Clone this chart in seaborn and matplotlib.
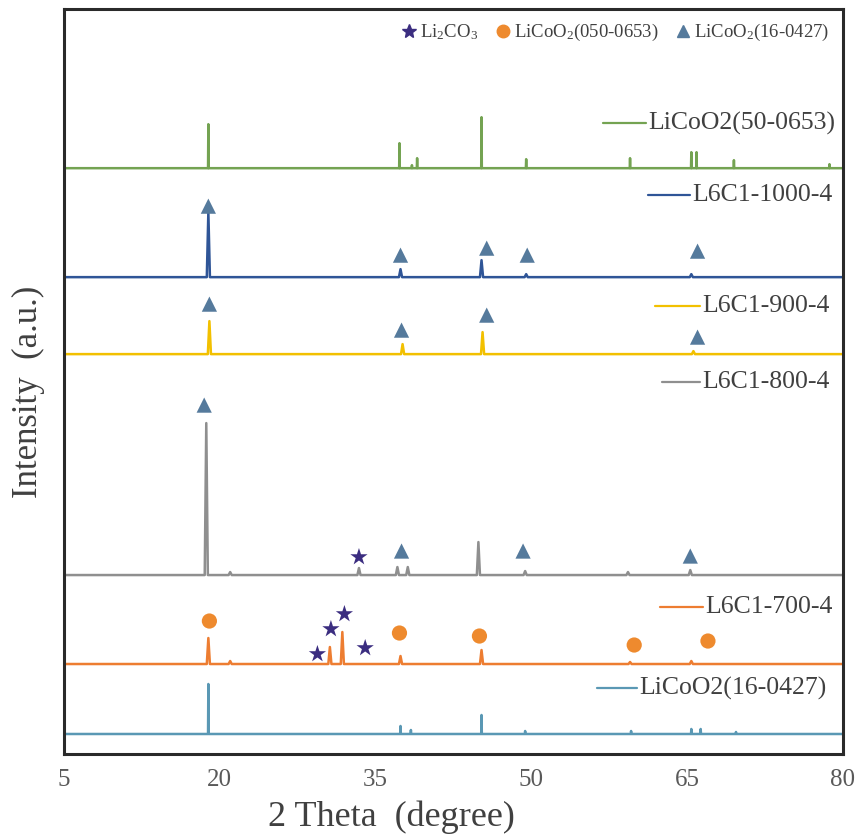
import numpy as np
import pandas as pd
import matplotlib
matplotlib.use("Agg")
import matplotlib.pyplot as plt
from matplotlib.lines import Line2D
import seaborn as sns

# ---- data -------------------------------------------------------------
# Pattern names, listed bottom to top
samples = ["LiCoO2(16-0427)", "L6C1-700-4", "L6C1-800-4",
           "L6C1-900-4", "L6C1-1000-4", "LiCoO2(50-0653)"]

# Peak positions (2θ, degree) and heights (a.u.) of every pattern
pdf16_pos = [18.9, 37.4, 38.4, 45.2, 49.4, 59.6, 65.4, 66.3, 69.7]
pdf16_int = [50, 8, 4, 19, 3, 3, 5, 5, 2]

l700_pos = [18.9, 21.0, 30.6, 31.8, 37.4, 45.2, 59.5, 65.4]
l700_int = [26, 3, 17, 32, 8, 14, 2, 3]

l800_pos = [18.7, 21.0, 33.4, 37.1, 38.1, 44.9, 49.4, 59.3, 65.3]
l800_int = [152, 3, 7, 8, 8, 33, 4, 3, 5]

l900_pos = [19.0, 37.6, 45.3, 65.6]
l900_int = [33, 10, 22, 3]

l1000_pos = [18.9, 37.4, 45.2, 49.5, 65.4]
l1000_int = [65, 8, 17, 3, 3]

pdf50_pos = [18.9, 37.3, 38.5, 39.0, 45.2, 49.5, 59.5, 65.4, 65.9, 69.5, 78.7]
pdf50_int = [44, 25, 3, 10, 51, 9, 10, 16, 16, 8, 4]

# Phase markers: 2θ and height above the pattern's baseline
tri_1000_x = [18.9, 37.4, 45.7, 49.6, 66.0]
tri_1000_y = [71, 22, 29, 22, 26]
tri_900_x = [19.0, 37.5, 45.7, 66.0]
tri_900_y = [50, 24, 39, 17]
tri_800_x = [18.5, 37.5, 49.2, 65.3]
tri_800_y = [170, 24, 24, 19]
star_800_x = [33.4]
star_800_y = [18]
circ_700_x = [19.0, 37.3, 45.0, 59.9, 67.0]
circ_700_y = [43, 31, 28, 19, 23]
star_700_x = [29.4, 30.7, 32.0, 34.0]
star_700_y = [10, 35, 50, 16]

x_ticks = [5, 20, 35, 50, 65, 80]

# ---- layout / style -----------------------------------------------------
peaks = {
    "LiCoO2(16-0427)": (pdf16_pos, pdf16_int),
    "L6C1-700-4": (l700_pos, l700_int),
    "L6C1-800-4": (l800_pos, l800_int),
    "L6C1-900-4": (l900_pos, l900_int),
    "L6C1-1000-4": (l1000_pos, l1000_int),
    "LiCoO2(50-0653)": (pdf50_pos, pdf50_int),
}
offsets = {"LiCoO2(16-0427)": 20, "L6C1-700-4": 90, "L6C1-800-4": 179,
           "L6C1-900-4": 400, "L6C1-1000-4": 477, "LiCoO2(50-0653)": 586}
colors = {"LiCoO2(16-0427)": "#5a98b4", "L6C1-700-4": "#ed7d31",
          "L6C1-800-4": "#8f8f8f", "L6C1-900-4": "#f2c000",
          "L6C1-1000-4": "#2f5597", "LiCoO2(50-0653)": "#74a352"}
# label anchor: (line start, text start) in axes fraction, vertical in data
label_pos = {"LiCoO2(16-0427)": (0.684, 0.739, 66),
             "L6C1-700-4": (0.765, 0.823, 147),
             "L6C1-800-4": (0.768, 0.820, 372),
             "L6C1-900-4": (0.759, 0.819, 448),
             "L6C1-1000-4": (0.750, 0.807, 559),
             "LiCoO2(50-0653)": (0.692, 0.750, 631)}
half_width = {"LiCoO2(16-0427)": 0.03, "LiCoO2(50-0653)": 0.03}

tri_color = "#557a9c"
star_color = "#3b2d80"
circ_color = "#ee8a2e"

sns.set_theme(style="white")
plt.rcParams["font.family"] = ["Liberation Serif", "DejaVu Serif"]
plt.rcParams["mathtext.fontset"] = "custom"
plt.rcParams["mathtext.rm"] = "Liberation Serif"
plt.rcParams["mathtext.it"] = "Liberation Serif:italic"

# Build long-form traces: flat baseline with sharp peaks
rows = []
for name in samples:
    pos, inten = peaks[name]
    base = offsets[name]
    hw = half_width.get(name, 0.15)
    rows.append((name, 5.0, base))
    for p, h in zip(pos, inten):
        rows += [(name, p - hw, base), (name, p, base + h), (name, p + hw, base)]
    rows.append((name, 80.0, base))
df = pd.DataFrame(rows, columns=["sample", "two_theta", "intensity"])

fig = plt.figure(figsize=(8.6, 8.4), dpi=100)
ax = fig.add_axes([0.0744, 0.1024, 0.9058, 0.8866])

sns.lineplot(data=df, x="two_theta", y="intensity", hue="sample",
             palette=colors, estimator=None, sort=False, units="sample",
             legend=False, linewidth=1.8, ax=ax)

def markers(xs, ys, name, marker, color, size):
    d = pd.DataFrame({"x": xs, "y": [offsets[name] + v for v in ys]})
    sns.scatterplot(data=d, x="x", y="y", marker=marker, color=color,
                    s=size, edgecolor="none", ax=ax, zorder=5, legend=False)

markers(tri_1000_x, tri_1000_y, "L6C1-1000-4", "^", tri_color, 120)
markers(tri_900_x, tri_900_y, "L6C1-900-4", "^", tri_color, 120)
markers(tri_800_x, tri_800_y, "L6C1-800-4", "^", tri_color, 120)
markers(star_800_x, star_800_y, "L6C1-800-4", "*", star_color, 170)
markers(circ_700_x, circ_700_y, "L6C1-700-4", "o", circ_color, 120)
markers(star_700_x, star_700_y, "L6C1-700-4", "*", star_color, 170)

# Series labels with a short line in the series colour
for name in samples:
    x0, x1, y = label_pos[name]
    ax.plot([x0, x1 - 0.003], [y, y], color=colors[name], lw=1.6,
            transform=ax.get_yaxis_transform())
    ax.text(x1, y, name, transform=ax.get_yaxis_transform(),
            ha="left", va="center", fontsize=18.5, color="#404040")

# Phase key
handles = [
    Line2D([], [], ls="", marker="*", ms=10, color=star_color),
    Line2D([], [], ls="", marker="o", ms=9, color=circ_color),
    Line2D([], [], ls="", marker="^", ms=9, color=tri_color),
]
labels = [r"Li$_2$CO$_3$", r"LiCoO$_2$(050-0653)", r"LiCoO$_2$(16-0427)"]
ax.legend(handles, labels, loc="upper right", ncol=3, frameon=False,
          fontsize=13.5, handletextpad=0.0, columnspacing=0.7,
          borderaxespad=0.3, handlelength=1.2, labelcolor="#404040")

ax.set_xlim(5, 80)
ax.set_ylim(0, 745)
ax.set_xticks(x_ticks)
ax.set_xticklabels([str(t) for t in x_ticks])
ax.set_yticks([])
ax.tick_params(axis="x", direction="out", length=5, width=1.5,
               colors="#222222", labelcolor="#595959", labelsize=18, pad=6)
for sp in ax.spines.values():
    sp.set_linewidth(2.2)
    sp.set_color("#2a2a2a")
ax.set_xlabel("2 Theta  (degree)", fontsize=26, color="#404040")
ax.set_ylabel("Intensity  (a.u.)", fontsize=25, color="#404040")
ax.xaxis.set_label_coords(0.42, -0.062)
ax.yaxis.set_label_coords(-0.024, 0.486)

fig.savefig("out.png", dpi=100, facecolor="white")
